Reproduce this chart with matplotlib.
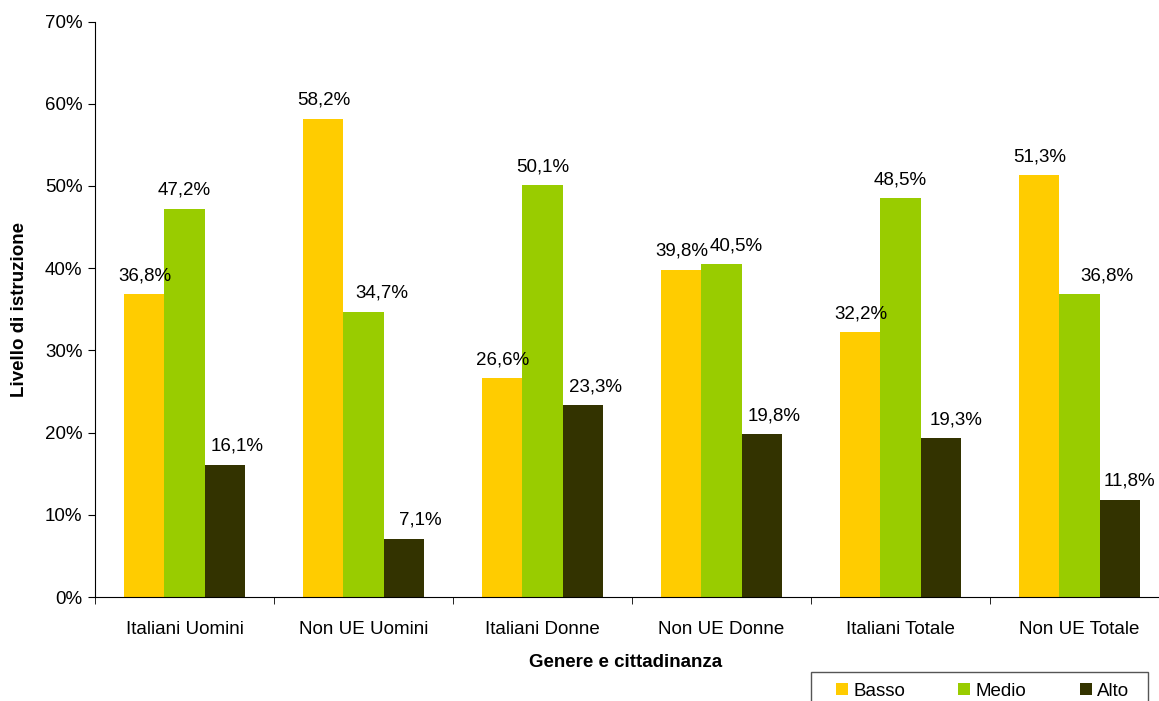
import numpy as np
import matplotlib.pyplot as plt
from matplotlib.patches import Rectangle
from matplotlib.ticker import PercentFormatter

plt.rcParams['font.family'] = ['Liberation Sans', 'DejaVu Sans']

# data
categories = ['Italiani Uomini', 'Non UE Uomini', 'Italiani Donne', 'Non UE Donne', 'Italiani Totale', 'Non UE Totale']
series_names = ['Basso', 'Medio', 'Alto']
basso = [36.8, 58.2, 26.6, 39.8, 32.2, 51.3]
medio = [47.2, 34.7, 50.1, 40.5, 48.5, 36.8]
alto = [16.1, 7.1, 23.3, 19.8, 19.3, 11.8]
colours = ['#FFCC00', '#99CC00', '#333300']

# label shifts (pixels) so the value labels sit like in the original
shift_basso = [0, 0, 0, 0, 0, 0]
shift_medio = [0, 18, 0, 15, 0, 27]
shift_alto = [13, 17, 13, 13, 16, 10]

fs = 13.5

fig = plt.figure(figsize=(11.59, 7.01), dpi=100)
ax = fig.add_axes([95/1159, 1 - 597/701, 1074/1159, (597 - 21.5)/701])

x = np.arange(len(categories))
w = 0.2235
for i, (vals, shifts, name, c) in enumerate(zip([basso, medio, alto], [shift_basso, shift_medio, shift_alto],
                                                series_names, colours)):
    pos = x + (i - 1) * w
    ax.bar(pos, vals, width=w, color=c, label=name, zorder=2)
    for p, v, s in zip(pos, vals, shifts):
        ax.annotate(('%.1f%%' % v).replace('.', ','), (p, v), xytext=(s, 14),
                    textcoords='offset pixels', ha='center', va='baseline', fontsize=fs)

ax.set_xlim(-0.5, len(categories) - 0.5)
ax.set_ylim(0, 70)
ax.set_yticks(np.arange(0, 71, 10))
ax.yaxis.set_major_formatter(PercentFormatter(decimals=0))
ax.set_xticks(x)
ax.set_xticklabels(categories)
ax.set_xticks(np.arange(-0.5, len(categories)), minor=True)
ax.tick_params(axis='x', which='major', length=0, pad=17, labelsize=fs)
ax.tick_params(axis='x', which='minor', length=5, direction='out')
ax.tick_params(axis='y', length=5, direction='out', labelsize=fs, pad=4)

for s in ['top', 'right']:
    ax.spines[s].set_visible(False)

ax.set_xlabel('Genere e cittadinanza', fontsize=fs, fontweight='bold')
ax.xaxis.set_label_coords((626 - 95)/1074, -0.099)
ax.set_ylabel('Livello di istruzione', fontsize=fs, fontweight='bold', labelpad=12)

# legend box at the bottom right, cut by the figure edge like the original
fig.patches.append(Rectangle((811/1159, -0.02), (1148 - 811)/1159, 0.02 + (701 - 672)/701,
                             transform=fig.transFigure, fill=False, edgecolor='#555555', linewidth=1.0))
fig.legend(loc='center left', bbox_to_anchor=(836/1159, 1 - 691/701), ncol=3,
           fontsize=fs, frameon=False, borderpad=0, borderaxespad=0,
           handlelength=0.64, handleheight=0.64, columnspacing=2.85, handletextpad=0.27)

fig.savefig('out.png', dpi=100)
